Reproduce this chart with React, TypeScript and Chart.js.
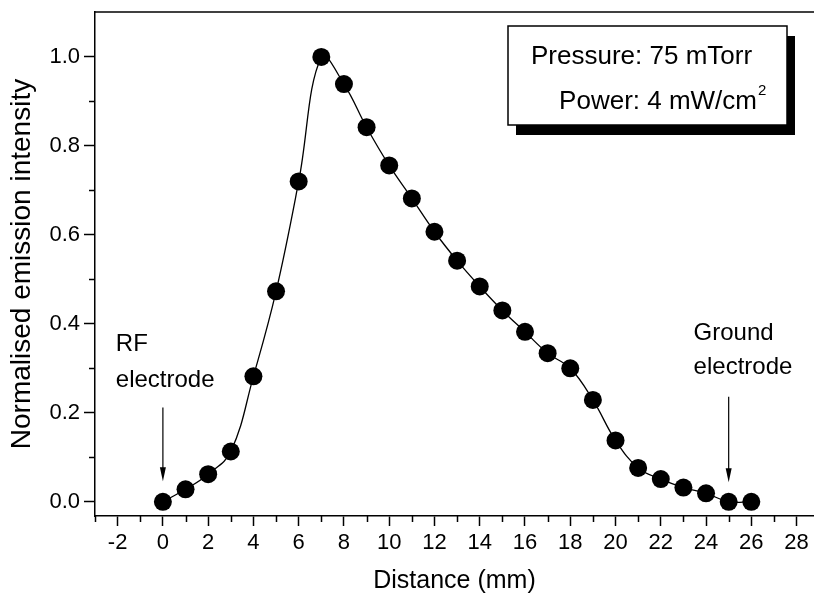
import React, { useEffect, useRef } from "react";
import { Chart, registerables } from "chart.js";

Chart.register(...registerables);

// ---- data ----
const distances = [0, 1, 2, 3, 4, 5, 6, 7, 8, 9, 10, 11, 12, 13, 14, 15, 16, 17, 18, 19, 20, 21, 22, 23, 24, 25, 26];
const intensity = [0.0, 0.028, 0.062, 0.113, 0.282, 0.473, 0.72, 1.0, 0.939, 0.842, 0.756, 0.682, 0.607, 0.542, 0.484, 0.43, 0.382, 0.334, 0.3, 0.229, 0.138, 0.076, 0.051, 0.032, 0.019, 0.0, 0.0];

const xMajorTicks = [-2, 0, 2, 4, 6, 8, 10, 12, 14, 16, 18, 20, 22, 24, 26, 28];
const xMinorTicks = [-3, -1, 1, 3, 5, 7, 9, 11, 13, 15, 17, 19, 21, 23, 25, 27];
const yMajorTicks = [0.0, 0.2, 0.4, 0.6, 0.8, 1.0];
const yMinorTicks = [0.1, 0.3, 0.5, 0.7, 0.9];

const xTitle = "Distance (mm)";
const yTitle = "Normalised emission intensity";

const rfLabel = ["RF", "electrode"];
const rfLabelPos = { x: -2.08, y: [0.354, 0.272] };
const rfArrow = { x: 0, from: 0.212, to: 0.046 };

const groundLabel = ["Ground", "electrode"];
const groundLabelPos = { x: 23.45, y: [0.378, 0.301] };
const groundArrow = { x: 25, from: 0.236, to: 0.044 };

const infoLines = ["Pressure: 75 mTorr", "Power: 4 mW/cm"];
const infoSup = "2";

const FONT = "'Liberation Sans', Arial, Helvetica, sans-serif";

const overlayPlugin = {
  id: "overlay",
  afterDraw(chart: any) {
    const { ctx, chartArea } = chart;
    const x = chart.scales.x;
    const y = chart.scales.y;
    ctx.save();
    ctx.strokeStyle = "#000";
    ctx.fillStyle = "#000";
    ctx.lineWidth = 1.5;

    // top frame line
    ctx.beginPath();
    ctx.moveTo(chartArea.left, chartArea.top);
    ctx.lineTo(chartArea.right, chartArea.top);
    ctx.stroke();

    // minor ticks
    ctx.beginPath();
    xMinorTicks.forEach((v) => {
      const px = Math.round(x.getPixelForValue(v)) + 0.5;
      ctx.moveTo(px, chartArea.bottom);
      ctx.lineTo(px, chartArea.bottom + 6);
    });
    yMinorTicks.forEach((v) => {
      const py = Math.round(y.getPixelForValue(v)) + 0.5;
      ctx.moveTo(chartArea.left, py);
      ctx.lineTo(chartArea.left - 6, py);
    });
    ctx.stroke();

    // arrows
    const drawArrow = (a: { x: number; from: number; to: number }) => {
      const px = x.getPixelForValue(a.x);
      const y1 = y.getPixelForValue(a.from);
      const y2 = y.getPixelForValue(a.to);
      ctx.lineWidth = 1.2;
      ctx.beginPath();
      ctx.moveTo(px, y1);
      ctx.lineTo(px, y2 - 8);
      ctx.stroke();
      ctx.beginPath();
      ctx.moveTo(px, y2);
      ctx.lineTo(px - 3, y2 - 14);
      ctx.lineTo(px + 3, y2 - 14);
      ctx.closePath();
      ctx.fill();
    };
    drawArrow(rfArrow);
    drawArrow(groundArrow);

    // electrode labels
    ctx.font = `24px ${FONT}`;
    ctx.textAlign = "left";
    ctx.textBaseline = "middle";
    rfLabel.forEach((t, i) => {
      ctx.fillText(t, x.getPixelForValue(rfLabelPos.x), y.getPixelForValue(rfLabelPos.y[i]));
    });
    groundLabel.forEach((t, i) => {
      ctx.fillText(t, x.getPixelForValue(groundLabelPos.x), y.getPixelForValue(groundLabelPos.y[i]));
    });

    // info box with shadow
    const bx = 508, by = 26, bw = 279, bh = 99;
    ctx.fillStyle = "#000";
    ctx.fillRect(bx + 8, by + 10, bw, bh);
    ctx.fillStyle = "#fff";
    ctx.fillRect(bx, by, bw, bh);
    ctx.strokeStyle = "#000";
    ctx.lineWidth = 1.5;
    ctx.strokeRect(bx, by, bw, bh);

    ctx.fillStyle = "#000";
    ctx.font = `26px ${FONT}`;
    ctx.textBaseline = "alphabetic";
    ctx.fillText(infoLines[0], 531, 64);
    const w = ctx.measureText(infoLines[1]).width;
    const x2 = 757 - w;
    ctx.fillText(infoLines[1], x2, 109);
    ctx.font = `15px ${FONT}`;
    ctx.fillText(infoSup, x2 + w + 1, 95);

    ctx.restore();
  },
};

export default function App() {
  const canvasRef = useRef<HTMLCanvasElement | null>(null);

  useEffect(() => {
    if (!canvasRef.current) return;
    const chart = new Chart(canvasRef.current, {
      type: "line",
      data: {
        datasets: [
          {
            data: distances.map((d, i) => ({ x: d, y: intensity[i] })),
            borderColor: "#000",
            borderWidth: 1.3,
            backgroundColor: "#000",
            pointBackgroundColor: "#000",
            pointBorderColor: "#000",
            pointRadius: 9,
            pointHoverRadius: 9,
            pointBorderWidth: 0,
            tension: 0.4,
            fill: false,
            clip: false,
          },
        ],
      },
      options: {
        animation: false,
        responsive: false,
        devicePixelRatio: 1,
        layout: { autoPadding: false, padding: { top: 12, left: 0, right: 0, bottom: 0 } },
        plugins: {
          legend: { display: false },
          tooltip: { enabled: false },
        },
        scales: {
          x: {
            type: "linear",
            min: -3,
            max: 28.77,
            afterFit: (s: any) => {
              s.height = 80;
              s.paddingLeft = 0;
              s.paddingRight = 0;
            },
            afterBuildTicks: (s: any) => {
              s.ticks = xMajorTicks.map((v) => ({ value: v }));
            },
            ticks: {
              color: "#000",
              font: { family: FONT, size: 22 },
              padding: 4,
              maxRotation: 0,
              autoSkip: false,
              callback: (v: any) => String(v),
            },
            grid: {
              drawOnChartArea: false,
              drawTicks: true,
              tickLength: 10,
              tickColor: "#000",
              tickWidth: 1.5,
            },
            border: { display: true, color: "#000", width: 1.5 },
            title: {
              display: true,
              text: xTitle,
              color: "#000",
              font: { family: FONT, size: 25 },
              padding: { top: 0, bottom: 0 },
            },
          },
          y: {
            type: "linear",
            min: -0.032,
            max: 1.101,
            afterFit: (s: any) => {
              s.width = 95;
              s.paddingTop = 0;
              s.paddingBottom = 0;
            },
            afterBuildTicks: (s: any) => {
              s.ticks = yMajorTicks.map((v) => ({ value: v }));
            },
            ticks: {
              color: "#000",
              font: { family: FONT, size: 22 },
              padding: 4,
              autoSkip: false,
              callback: (v: any) => Number(v).toFixed(1),
            },
            grid: {
              drawOnChartArea: false,
              drawTicks: true,
              tickLength: 11,
              tickColor: "#000",
              tickWidth: 1.5,
            },
            border: { display: true, color: "#000", width: 1.5 },
            title: {
              display: true,
              text: yTitle,
              color: "#000",
              font: { family: FONT, size: 28 },
              padding: { top: 5, bottom: 0 },
            },
          },
        },
      },
      plugins: [overlayPlugin],
    } as any);
    return () => chart.destroy();
  }, []);

  return (
    <div style={{ position: "absolute", left: 0, top: 0, width: 814, height: 596, background: "#fff", overflow: "hidden" }}>
      <canvas ref={canvasRef} width={814} height={596} style={{ display: "block" }} />
    </div>
  );
}
